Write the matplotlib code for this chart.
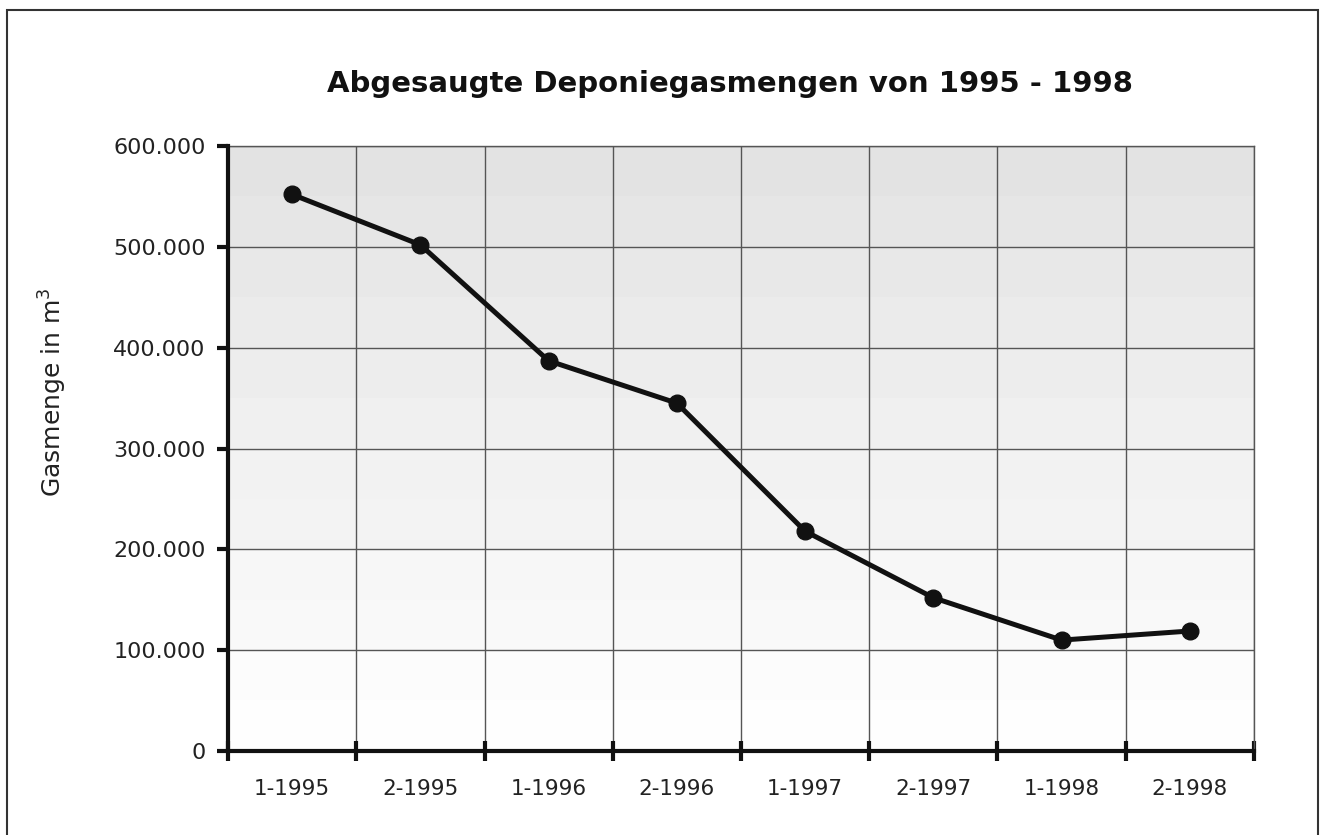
"""
Abgesaugte Deponiegasmengen 1995 - 1998 (Halbjahreswerte).
"""

import matplotlib
matplotlib.use("Agg")
import matplotlib.pyplot as plt
from matplotlib.patches import Rectangle
from matplotlib.ticker import FuncFormatter, MultipleLocator
import numpy as np

# Halbjahre und abgesaugte Gasmenge in m3
perioden = ["1-1995", "2-1995", "1-1996", "2-1996", "1-1997", "2-1997", "1-1998", "2-1998"]
gasmenge = [552000, 502000, 387000, 345000, 218000, 152000, 110000, 119000]

y_max = 600000
y_step = 100000

plt.rcParams["font.family"] = ["DejaVu Sans"]

fig = plt.figure(figsize=(13.25, 8.35), dpi=100)
ax = fig.add_axes([0.1721, 0.1006, 0.7743, 0.7245])

# Rahmen um die gesamte Grafik
fig.patches.append(Rectangle((7 / 1325, -0.02), 1311 / 1325, 1.008,
                             transform=fig.transFigure, fill=False,
                             edgecolor="#333333", linewidth=1.5))

n = len(perioden)
x = np.arange(n) + 0.5

# gestufter Grauverlauf als Hintergrund (oben dunkler, unten fast weiss)
bands = np.linspace(0.89, 0.995, 12).reshape(-1, 1)
ax.imshow(bands, cmap="gray", vmin=0, vmax=1, aspect="auto",
          extent=(0, n, 0, y_max), zorder=0, interpolation="nearest")

ax.plot(x, gasmenge, color="#111111", linewidth=3.6, marker="o",
        markersize=12, zorder=3, solid_joinstyle="round")

ax.set_xlim(0, n)
ax.set_ylim(0, y_max)

# x-Achse: Striche an den Kategoriegrenzen, Beschriftung in der Mitte
ax.set_xticks(np.arange(n + 1))
ax.set_xticklabels([])
ax.set_xticks(x, minor=True)
ax.set_xticklabels(perioden, minor=True)
ax.tick_params(axis="x", which="major", length=15, width=3, color="#111111",
               direction="inout")
ax.tick_params(axis="x", which="minor", length=0, pad=20, labelsize=15.5,
               labelcolor="#222222")

ax.yaxis.set_major_locator(MultipleLocator(y_step))
ax.yaxis.set_major_formatter(FuncFormatter(lambda v, p: f"{v:,.0f}".replace(",", ".")))
ax.tick_params(axis="y", length=8, width=3, color="#111111", pad=8,
               labelsize=16, labelcolor="#222222")

ax.grid(True, which="major", color="#555555", linewidth=1, zorder=1)
ax.set_axisbelow(True)

for side in ("left", "bottom"):
    ax.spines[side].set_linewidth(3)
    ax.spines[side].set_color("#111111")
    ax.spines[side].set_zorder(4)
for side in ("top", "right"):
    ax.spines[side].set_linewidth(1)
    ax.spines[side].set_color("#555555")

ax.set_ylabel("Gasmenge in m$^3$", fontsize=18, color="#222222")
ax.yaxis.set_label_coords(-0.155, 0.593)
fig.text(0.551, 0.900, "Abgesaugte Deponiegasmengen von 1995 - 1998",
         ha="center", va="center", fontsize=21, fontweight="bold", color="#111111")

fig.savefig("out.png", dpi=100)
plt.close(fig)
